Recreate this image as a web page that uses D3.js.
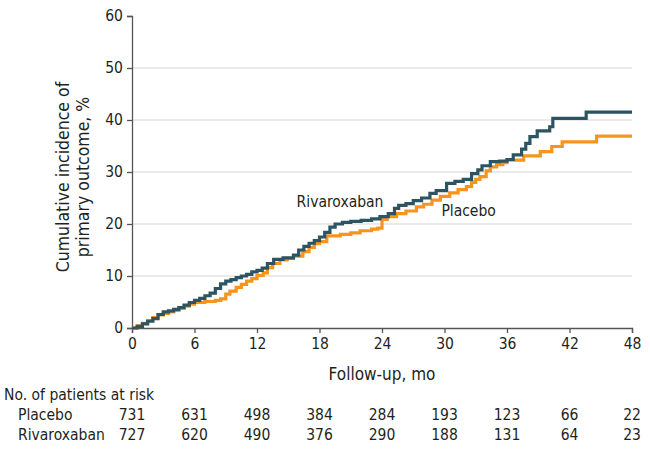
<!DOCTYPE html>
<html>
<head>
<meta charset="utf-8">
<script src="https://cdn.jsdelivr.net/npm/d3@7"></script>
<style>
  body { margin: 0; background: #fff; }
  text { font-family: "DejaVu Sans Condensed", "Liberation Sans Narrow", sans-serif; fill: #231f20; }
</style>
</head>
<body>
<svg width="650" height="455"></svg>
<script>
var WIDTH = 650;
var HEIGHT = 455;

// x ticks (months) and y ticks (%)
var xTicks = [0, 6, 12, 18, 24, 30, 36, 42, 48];
var yTicks = [0, 10, 20, 30, 40, 50, 60];

// cumulative incidence: [month, %]
var rivaroxaban = [
    [0, 0], [0.5, 0.3], [1, 0.8], [1.5, 1.3], [2, 1.8], [2.5, 2.6], [3, 3.1], [3.5, 3.3],
    [4, 3.6], [4.5, 3.9], [5, 4.4], [5.5, 4.9], [6, 5.3], [6.5, 5.7], [7, 6.2], [7.5, 6.7],
    [8, 7.6], [8.5, 8.5], [9, 9.0], [9.5, 9.3], [10, 9.7], [10.5, 10.0], [11, 10.3],
    [11.5, 10.8], [12, 11.1], [12.5, 11.5], [13, 12.4], [13.6, 13.2], [14.5, 13.5],
    [15.5, 14.0], [16, 15.0], [16.5, 15.7], [17, 16.3], [17.5, 16.8], [18, 17.5],
    [18.5, 18.4], [19, 19.4], [19.5, 20.0], [20.2, 20.3], [21, 20.5], [22, 20.7],
    [23, 21.0], [23.8, 21.4], [24.6, 22.0], [25.2, 23.0], [25.6, 23.6], [26.3, 23.9],
    [27, 24.5], [27.8, 25.0], [28.6, 25.9], [29.2, 26.4], [30.2, 27.8], [31, 28.2],
    [31.8, 28.6], [32.6, 29.7], [33.2, 30.4], [33.6, 31.2], [34.4, 32.0], [35.3, 32.1],
    [36.0, 32.4], [36.6, 33.3], [37.4, 34.4], [37.8, 35.5], [38.2, 36.8], [38.9, 37.9],
    [40.1, 38.7], [40.4, 40.3], [43.6, 41.5], [48, 41.5]
];
var placebo = [
    [0, 0], [0.5, 0.4], [1, 0.9], [1.5, 1.4], [2, 2.0], [2.5, 2.5], [3, 2.8], [3.5, 3.1],
    [4, 3.4], [4.5, 3.8], [5, 4.2], [5.5, 4.6], [6, 4.9], [7, 5.1], [8, 5.3], [8.5, 5.6],
    [9, 6.5], [9.4, 7.1], [10, 7.8], [10.5, 8.4], [11, 9.0], [11.5, 9.5], [12, 10.1],
    [12.6, 10.6], [13, 11.6], [13.5, 12.4], [14.2, 13.1], [14.9, 13.4], [15.5, 13.8],
    [16.4, 14.7], [17, 15.5], [17.5, 16.2], [18, 16.6], [18.7, 17.7], [20, 18.0],
    [21, 18.3], [21.9, 18.7], [23, 19.0], [23.6, 19.2], [24, 20.9], [24.5, 21.4],
    [25.4, 22.0], [26.3, 22.5], [27.3, 23.3], [28, 23.8], [28.8, 24.6], [29.6, 25.3],
    [30.5, 26.0], [31.3, 26.6], [32.1, 27.2], [32.6, 28.0], [33.0, 28.6], [33.4, 29.1],
    [34.0, 30.2], [34.4, 31.0], [35.0, 31.4], [35.6, 31.8], [36.0, 32.3], [37.6, 33.1],
    [39.2, 33.9], [40.3, 34.9], [41.3, 35.8], [44.6, 36.9], [48, 36.9]
];

// numbers at risk at each x tick
var riskGroups = ["Placebo", "Rivaroxaban"];
var riskPlacebo = [731, 631, 498, 384, 284, 193, 123, 66, 22];
var riskRivaroxaban = [727, 620, 490, 376, 290, 188, 131, 64, 23];

var svg = d3.select("svg")
    .attr("width", WIDTH)
    .attr("height", HEIGHT);

var x = d3.scaleLinear().domain([0, 48]).range([132, 632]);
var y = d3.scaleLinear().domain([0, 60]).range([328, 16]);

//gridlines
svg.append("g")
    .selectAll("line")
    .data(yTicks.filter(function(d) { return d > 0 && d < 60; }))
    .enter()
    .append("line")
    .attr("x1", x(0))
    .attr("x2", x(48))
    .attr("y1", function(d) { return y(d); })
    .attr("y2", function(d) { return y(d); })
    .attr("stroke", "#d6d6d6")
    .attr("stroke-width", 1.2);

//axes
var yAxis = svg.append("g")
    .attr("transform", "translate(" + x(0) + ",0)")
    .call(d3.axisLeft(y).tickValues(yTicks).tickSize(5).tickPadding(4));
var xAxis = svg.append("g")
    .attr("transform", "translate(0," + y(0) + ")")
    .call(d3.axisBottom(x).tickValues(xTicks).tickSize(5).tickPadding(5));

[xAxis, yAxis].forEach(function(a) {
    a.select(".domain").attr("stroke", "#555").attr("stroke-width", 1.3);
    a.selectAll(".tick line").attr("stroke", "#555").attr("stroke-width", 1.3);
    a.selectAll(".tick text")
        .style("font-size", "15.5px")
        .style("font-family", "DejaVu Sans Condensed, sans-serif")
        .attr("fill", "#231f20");
});

//curves
var line = d3.line()
    .x(function(d) { return x(d[0]); })
    .y(function(d) { return y(d[1]); })
    .curve(d3.curveStepAfter);

svg.append("path")
    .datum(placebo)
    .attr("d", line)
    .attr("fill", "none")
    .attr("stroke", "#f7941d")
    .attr("stroke-width", 3.2);

svg.append("path")
    .datum(rivaroxaban)
    .attr("d", line)
    .attr("fill", "none")
    .attr("stroke", "#2c5462")
    .attr("stroke-width", 3.2);

//series labels
svg.append("text")
    .attr("x", x(15.8))
    .attr("y", y(23.3))
    .style("font-size", "15.5px")
    .text("Rivaroxaban");
svg.append("text")
    .attr("x", x(29.7))
    .attr("y", y(21.5))
    .style("font-size", "15.5px")
    .text("Placebo");

//axis titles
svg.append("text")
    .attr("x", x(24))
    .attr("y", 380)
    .attr("text-anchor", "middle")
    .style("font-size", "17px")
    .text("Follow-up, mo");

svg.append("g")
    .attr("transform", "translate(69,177) rotate(-90)")
    .selectAll("text")
    .data(["Cumulative incidence of", "primary outcome, %"])
    .enter()
    .append("text")
    .attr("x", 0)
    .attr("y", function(d, i) { return i * 20; })
    .attr("text-anchor", "middle")
    .style("font-size", "17.5px")
    .text(function(d) { return d; });

//risk table
svg.append("text")
    .attr("x", 4)
    .attr("y", 400)
    .style("font-size", "15.5px")
    .text("No. of patients at risk");

var riskRows = [riskPlacebo, riskRivaroxaban];
riskRows.forEach(function(row, r) {
    var yy = 420 + r * 20;
    svg.append("text")
        .attr("x", 18)
        .attr("y", yy)
        .style("font-size", "15.5px")
        .text(riskGroups[r]);
    svg.append("g")
        .selectAll("text")
        .data(row)
        .enter()
        .append("text")
        .attr("x", function(d, i) { return x(xTicks[i]); })
        .attr("y", yy)
        .attr("text-anchor", "middle")
        .style("font-size", "15.5px")
        .text(function(d) { return d; });
});
</script>
</body>
</html>
